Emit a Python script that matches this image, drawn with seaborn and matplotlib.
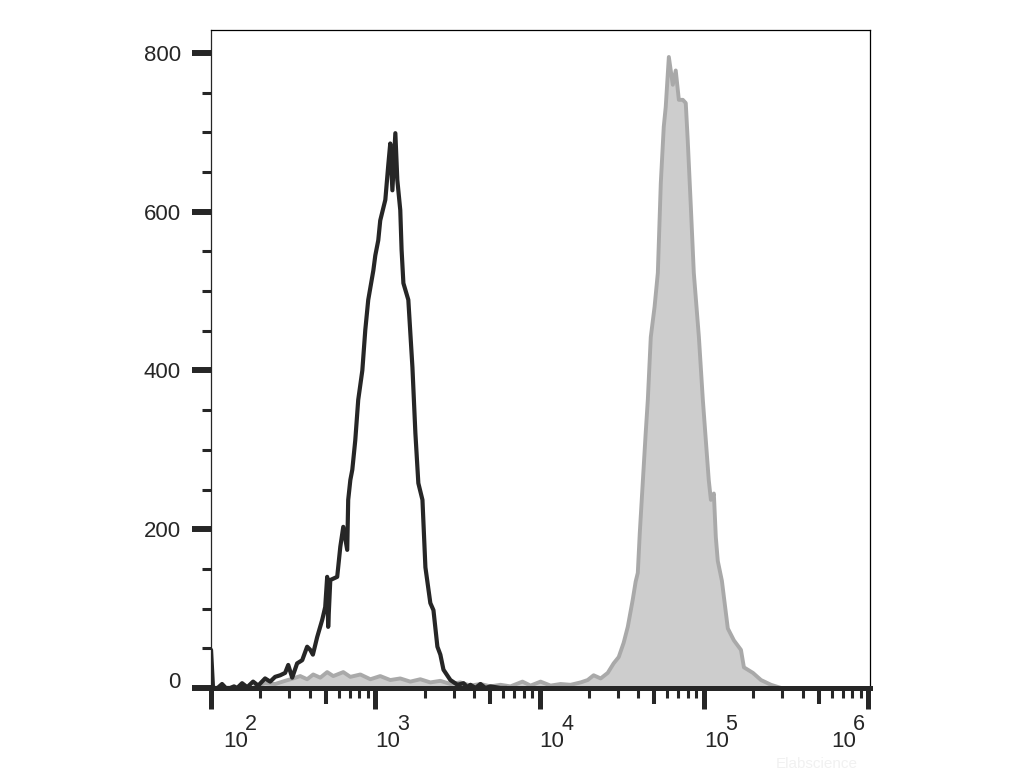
import numpy as np
import pandas as pd
import matplotlib
matplotlib.use("Agg")
import matplotlib.pyplot as plt
import seaborn as sns
from matplotlib.ticker import FixedLocator, NullLocator, NullFormatter

# black histogram (unstained / isotype), x as log10 intensity
black_log = [2.000, 2.012, 2.040, 2.067, 2.090, 2.116, 2.140, 2.159, 2.189, 2.220,
             2.256, 2.287, 2.329, 2.360, 2.390, 2.421, 2.451, 2.470, 2.494, 2.524,
             2.555, 2.585, 2.604, 2.620, 2.646, 2.677, 2.695, 2.707, 2.713, 2.726,
             2.768, 2.787, 2.805, 2.829, 2.835, 2.848, 2.860, 2.878, 2.896, 2.921,
             2.939, 2.957, 2.988, 3.000, 3.018, 3.030, 3.061, 3.079, 3.091, 3.104,
             3.122, 3.134, 3.152, 3.160, 3.171, 3.201, 3.226, 3.244, 3.262, 3.287,
             3.305, 3.335, 3.354, 3.378, 3.396, 3.415, 3.457, 3.500, 3.537, 3.560,
             3.579, 3.610, 3.640, 3.670, 3.701, 3.762, 3.800]
black_count = [48, 0, 0, 5, 0, 0, 2, 0, 6, 1,
               8, 3, 12, 8, 14, 16, 19, 29, 13, 31,
               35, 52, 48, 42, 64, 86, 102, 140, 77, 136,
               140, 178, 203, 174, 237, 262, 275, 312, 363, 400,
               451, 489, 526, 545, 564, 589, 615, 659, 686, 627,
               699, 640, 602, 552, 510, 489, 404, 321, 258, 237,
               152, 107, 98, 52, 42, 23, 10, 4, 6, 1,
               4, 0, 5, 0, 2, 0, 0]

# gray filled histogram (stained)
gray_log = [2.256, 2.280, 2.329, 2.390, 2.451, 2.500, 2.543, 2.585, 2.622, 2.665,
            2.707, 2.744, 2.805, 2.848, 2.909, 2.970, 3.030, 3.091, 3.152, 3.213,
            3.274, 3.335, 3.396, 3.457, 3.518, 3.579, 3.640, 3.701, 3.762, 3.823,
            3.896, 3.945, 4.006, 4.067, 4.128, 4.189, 4.250, 4.293, 4.329, 4.372,
            4.415, 4.451, 4.482, 4.512, 4.537, 4.567, 4.585, 4.598, 4.610, 4.628,
            4.646, 4.659, 4.677, 4.700, 4.720, 4.738, 4.756, 4.768, 4.787, 4.811,
            4.829, 4.848, 4.872, 4.890, 4.902, 4.921, 4.939, 4.970, 4.994, 5.030,
            5.043, 5.061, 5.073, 5.085, 5.110, 5.146, 5.183, 5.226, 5.244, 5.299,
            5.348, 5.409, 5.470]
gray_count = [0, 3, 6, 5, 9, 12, 15, 11, 17, 13,
              20, 15, 20, 14, 17, 11, 15, 10, 12, 8,
              11, 7, 9, 5, 7, 3, 5, 2, 4, 2,
              8, 3, 8, 3, 5, 4, 7, 10, 16, 12,
              19, 31, 39, 57, 77, 111, 134, 145, 195, 258,
              321, 363, 442, 480, 523, 636, 707, 732, 795, 760,
              778, 741, 741, 737, 690, 606, 523, 442, 363, 262,
              237, 245, 190, 160, 135, 75, 60, 48, 26, 19,
              10, 4, 0]

y_major = [0, 200, 400, 600, 800]
decades = [2, 3, 4, 5, 6]

sns.set_style("ticks")
plt.rcParams["font.family"] = ["Liberation Sans", "DejaVu Sans"]

df_black = pd.DataFrame({"x": 10 ** np.array(black_log), "n": black_count})
df_gray = pd.DataFrame({"x": 10 ** np.array(gray_log), "n": gray_count})

fig = plt.figure(figsize=(10.31, 7.73), dpi=100)
ax = fig.add_axes([0.2047, 0.1100, 0.6392, 0.8512])

ax.fill_between(df_gray["x"], 0, df_gray["n"], color="#cdcdcd", lw=0, zorder=1)
sns.lineplot(data=df_gray, x="x", y="n", sort=False, estimator=None,
             color="#a9a9a9", linewidth=2.8, ax=ax, zorder=2)
sns.lineplot(data=df_black, x="x", y="n", sort=False, estimator=None,
             color="#262626", linewidth=3.0, ax=ax, zorder=3)

ax.set_xscale("log")
ax.set_xlim(100, 10 ** 6.012)
ax.set_ylim(0, 829)
ax.set_xlabel("")
ax.set_ylabel("")

dark = "#262626"
for side in ["top", "right"]:
    ax.spines[side].set_linewidth(0.9)
    ax.spines[side].set_color("black")
ax.spines["left"].set_linewidth(0.9)
ax.spines["left"].set_color(dark)
ax.spines["bottom"].set_linewidth(3.6)
ax.spines["bottom"].set_color(dark)

# y ticks
ax.yaxis.set_major_locator(FixedLocator(y_major))
ax.yaxis.set_minor_locator(FixedLocator(np.arange(0, 830, 50)))
ax.tick_params(axis="y", which="major", direction="out", length=13.7, width=4.3,
               color=dark, labelsize=16, labelcolor=dark, pad=8)
ax.tick_params(axis="y", which="minor", direction="out", length=6.5, width=2.2, color=dark)
ax.set_yticklabels([str(v) for v in y_major])

# x ticks: decades long, 5x medium, rest short
xt = [m * 10 ** k for k in range(2, 6) for m in range(1, 10)] + [10 ** 6]
ax.xaxis.set_major_locator(FixedLocator(xt))
ax.xaxis.set_minor_locator(NullLocator())
ax.xaxis.set_major_formatter(NullFormatter())
ax.tick_params(axis="x", which="major", direction="out", length=7, width=2.2, color=dark)
for t, v in zip(ax.xaxis.get_major_ticks(len(xt)), xt):
    m = round(v / 10 ** np.floor(np.log10(v)))
    if m == 1:
        t.tick1line.set_markersize(15)
        t.tick1line.set_markeredgewidth(3.6)
    elif m == 5:
        t.tick1line.set_markersize(11.5)
        t.tick1line.set_markeredgewidth(2.9)

for lab in ax.get_yticklabels():
    if lab.get_text() == "0":
        lab.set_verticalalignment("baseline")

# decade labels 10^k, offsets in points
label_dx = [8.6, 0, 0, 0, -26.6]
for k, dx in zip(decades, label_dx):
    ax.annotate("10", xy=(10 ** k, 0), xycoords=("data", "axes fraction"),
                xytext=(dx, -42.5), textcoords="offset points",
                ha="left", va="baseline", fontsize=16, color=dark)
    ax.annotate(str(k), xy=(10 ** k, 0), xycoords=("data", "axes fraction"),
                xytext=(dx + 15.5, -30.5), textcoords="offset points",
                ha="left", va="baseline", fontsize=15.5, color=dark)

fig.text(0.752, 0.006, "Elabscience", fontsize=11, color="#f1f1f1")

fig.savefig("out.png", dpi=100)
